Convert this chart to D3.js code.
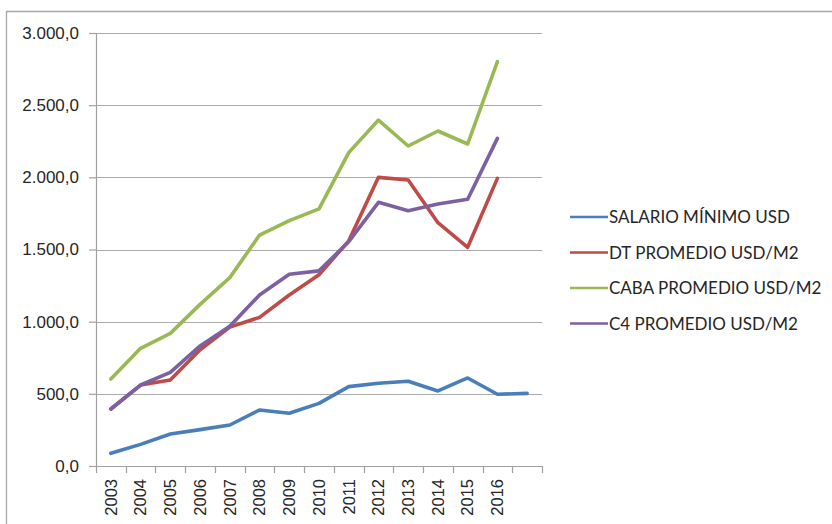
<!DOCTYPE html>
<html>
<head>
<meta charset="utf-8">
<script src="https://cdn.jsdelivr.net/npm/d3@7"></script>
<style>
  body { margin: 0; background: #fff; }
  svg { display: block; }
</style>
</head>
<body>
<svg id="chart" width="832" height="524"></svg>
<script>
var years = ["2003", "2004", "2005", "2006", "2007", "2008", "2009", "2010",
             "2011", "2012", "2013", "2014", "2015", "2016", ""];
var salario = [88, 150, 222, 252, 284, 388, 365, 434, 550, 573, 587, 520, 610, 497, 503];
var dt      = [395, 561, 596, 805, 962, 1030, 1185, 1325, 1560, 2000, 1982, 1686, 1515, 1993];
var caba    = [603, 815, 919, 1120, 1305, 1600, 1700, 1781, 2171, 2397, 2217, 2321, 2231, 2801];
var c4      = [395, 561, 649, 832, 968, 1185, 1328, 1352, 1554, 1827, 1769, 1815, 1848, 2270];
var yTicks  = [0, 500, 1000, 1500, 2000, 2500, 3000];

var series = [
  { name: "SALARIO MÍNIMO USD", values: salario, color: "#4a7ebb" },
  { name: "DT PROMEDIO USD/M2", values: dt, color: "#be4b48" },
  { name: "CABA PROMEDIO USD/M2", values: caba, color: "#98b954" },
  { name: "C4 PROMEDIO USD/M2", values: c4, color: "#7d60a0" }
];

var svg = d3.select("#chart"),
    margin = { top: 33, left: 96 },
    width = 446,
    height = 433;

var fmt = d3.formatLocale({ decimal: ",", thousands: ".", grouping: [3], currency: ["", ""] }).format(",.1f");

// outer frame (cut off on the right and bottom)
svg.append("path")
    .attr("d", "M6.5,530 V11.5 H840")
    .attr("fill", "none")
    .attr("stroke", "#a6a6a6")
    .attr("stroke-width", 1.3);

var x = d3.scaleBand().domain(d3.range(years.length)).range([0, width]);
var y = d3.scaleLinear().domain([0, 3000]).range([height, 0]);

var g = svg.append("g")
    .attr("transform", "translate(" + margin.left + "," + margin.top + ")");

// gridlines
g.selectAll(".grid")
    .data(yTicks.slice(1))
    .enter().append("line")
    .attr("x1", 0).attr("x2", width)
    .attr("y1", function (d) { return Math.round(y(d)) + 0.5; })
    .attr("y2", function (d) { return Math.round(y(d)) + 0.5; })
    .attr("stroke", "#ababab")
    .attr("stroke-width", 1.2);

// y axis
var yAxis = g.append("g")
    .call(d3.axisLeft(y).tickValues(yTicks).tickSize(7).tickPadding(10).tickFormat(fmt));
yAxis.select(".domain").attr("stroke", "#a0a0a0").attr("stroke-width", 1.2);
yAxis.selectAll(".tick line").attr("stroke", "#a0a0a0").attr("stroke-width", 1.2);
yAxis.selectAll("text")
    .attr("fill", "#262626")
    .style("font-family", "'Liberation Sans', Arial, sans-serif")
    .style("font-size", "17px");

// x axis
var xg = g.append("g").attr("transform", "translate(0," + height + ")");
xg.append("line")
    .attr("x1", 0).attr("x2", width)
    .attr("y1", 0.5).attr("y2", 0.5)
    .attr("stroke", "#a0a0a0").attr("stroke-width", 1.2);
var bounds = x.domain().map(function (i) { return x(i); }).concat([width]);
xg.selectAll(".xtick")
    .data(bounds)
    .enter().append("line")
    .attr("x1", function (d) { return Math.round(d) + 0.5; })
    .attr("x2", function (d) { return Math.round(d) + 0.5; })
    .attr("y1", 0).attr("y2", 7)
    .attr("stroke", "#a0a0a0").attr("stroke-width", 1.2);
xg.selectAll(".xlabel")
    .data(years)
    .enter().append("text")
    .attr("transform", function (d, i) {
        return "translate(" + (x(i) + x.bandwidth() / 2) + ",13) rotate(-90)";
    })
    .attr("text-anchor", "end")
    .attr("dy", "0.35em")
    .attr("fill", "#262626")
    .style("font-family", "'Liberation Sans', Arial, sans-serif")
    .style("font-size", "16.5px")
    .text(function (d) { return d; });

// lines
var line = d3.line()
    .x(function (d, i) { return x(i) + x.bandwidth() / 2; })
    .y(function (d) { return y(d); });

g.selectAll(".series")
    .data(series)
    .enter().append("path")
    .attr("fill", "none")
    .attr("stroke", function (d) { return d.color; })
    .attr("stroke-width", 3.6)
    .attr("stroke-linejoin", "round")
    .attr("stroke-linecap", "round")
    .attr("d", function (d) { return line(d.values); });

// legend
var legend = svg.append("g").attr("transform", "translate(570,217)");
var item = legend.selectAll(".item")
    .data(series)
    .enter().append("g")
    .attr("transform", function (d, i) { return "translate(0," + (i * 35.5) + ")"; });
item.append("line")
    .attr("x1", 0).attr("x2", 38)
    .attr("stroke", function (d) { return d.color; })
    .attr("stroke-width", 2.5);
item.append("text")
    .attr("x", 39)
    .attr("dy", "0.36em")
    .attr("fill", "#262626")
    .style("font-family", "Lato, 'Open Sans', sans-serif")
    .style("font-size", "17px")
    .text(function (d) { return d.name; });
</script>
</body>
</html>
